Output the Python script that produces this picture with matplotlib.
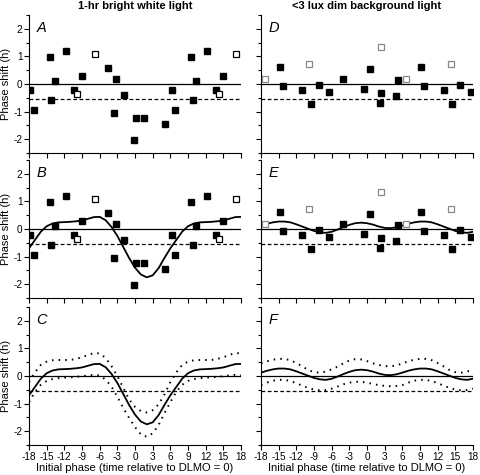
import matplotlib
matplotlib.use("Agg")
import matplotlib.pyplot as plt
import numpy as np

plt.rcParams['font.family'] = ['Liberation Sans', 'DejaVu Sans']
plt.rcParams['axes.unicode_minus'] = False

# one 24-h cycle of the fitted curves, read at -18, -17, ..., 5 h
bright_fit = [-0.70, -0.40, -0.10, 0.10, 0.20, 0.24, 0.25, 0.26, 0.28, 0.31, 0.37, 0.43,
              0.44, 0.32, 0.08, -0.25, -0.65, -1.05, -1.40, -1.65, -1.75, -1.68, -1.42, -1.05]
bright_upper = [-0.22, 0.13, 0.40, 0.52, 0.57, 0.58, 0.58, 0.58, 0.62, 0.68, 0.76, 0.83,
                0.82, 0.66, 0.36, 0.00, -0.42, -0.85, -1.12, -1.27, -1.32, -1.24, -1.03, -0.67]
bright_lower = [-0.95, -0.58, -0.32, -0.18, -0.11, -0.08, -0.06, -0.05, -0.03, -0.01, 0.02, 0.04,
                0.02, -0.13, -0.38, -0.75, -1.15, -1.52, -1.85, -2.12, -2.20, -2.08, -1.78, -1.35]
dim_fit = [0.12, 0.19, 0.24, 0.27, 0.27, 0.24, 0.17, 0.09, 0.01, -0.07, -0.12, -0.14,
           -0.10, -0.02, 0.07, 0.15, 0.21, 0.23, 0.21, 0.16, 0.09, 0.04, 0.03, 0.06]
dim_upper = [0.46, 0.53, 0.59, 0.62, 0.62, 0.57, 0.47, 0.35, 0.22, 0.14, 0.12, 0.16,
             0.24, 0.34, 0.46, 0.56, 0.61, 0.60, 0.54, 0.46, 0.40, 0.36, 0.35, 0.38]
dim_lower = [-0.33, -0.24, -0.17, -0.14, -0.14, -0.18, -0.26, -0.35, -0.43, -0.49, -0.52, -0.51,
             -0.46, -0.38, -0.30, -0.24, -0.21, -0.21, -0.24, -0.29, -0.33, -0.36, -0.37, -0.36]

# individual phase shifts (initial phase in h, shift in h)
bright_phase = [-17.8, -17.2, -14.5, -14.2, -13.6, -11.8, -10.3, -9.05, -4.65, -3.6,
                -3.17, -1.93, -0.17, 0.17, 1.52, 5.15]
bright_shift = [-0.20, -0.94, 0.99, -0.59, 0.10, 1.18, -0.20, 0.28, 0.58, -1.05,
                0.18, -0.40, -2.02, -1.23, -1.23, -1.45]
bright_open_phase = [-9.8, -6.85]
bright_open_shift = [-0.37, 1.09]

dim_phase = [-14.8, -14.3, -11.0, -9.56, -8.2, -6.4, -4.0, -0.46, 0.56, 2.2, 2.33, 4.93, 5.3]
dim_shift = [0.62, -0.06, -0.20, -0.72, -0.04, -0.30, 0.19, -0.19, 0.54, -0.69, -0.33, -0.45, 0.16]
dim_open_phase = [-17.3, -9.8, 2.43]
dim_open_shift = [0.19, 0.72, 1.34]

baseline = -0.54  # dashed reference line


def double_plot(x, y):
    # repeat the data one day later where it still fits on the axis
    x = np.asarray(x, float)
    y = np.asarray(y, float)
    later = x + 24 <= 18
    return np.concatenate([x, x[later] + 24]), np.concatenate([y, y[later]])


def curve(values):
    # the cycle runs -18..5 h, the axis -18..18 h
    h = np.arange(-18, 19)
    return h, np.array(list(values) + list(values[:13]))


def style_axis(ax, left, bottom):
    ax.set_xlim(-18, 18)
    ax.set_ylim(-2.5, 2.5)
    for s in ['top', 'right']:
        ax.spines[s].set_visible(False)
    for s in ['left', 'bottom']:
        ax.spines[s].set_linewidth(0.8)
    ax.set_xticks(np.arange(-18, 19, 3))
    ax.set_yticks([-2, -1, 0, 1, 2])
    ax.set_yticks(np.arange(-2.5, 2.6, 0.5), minor=True)
    ax.tick_params(direction='out', length=3.5, width=0.8, labelsize=7.2, pad=1.2)
    ax.tick_params(which='minor', direction='out', length=2.2, width=0.8)
    ax.set_xticks([], minor=True)
    if not left:
        ax.set_yticklabels([])
    else:
        ax.set_ylabel('Phase shift (h)', fontsize=8)
        ax.yaxis.set_label_coords(-0.083, 0.5)
    if not bottom:
        ax.set_xticklabels([])
    else:
        ax.set_xlabel('Initial phase (time relative to DLMO = 0)', fontsize=8, labelpad=1)
    ax.axhline(0, color='black', lw=0.9, zorder=1)
    ax.axhline(baseline, color='black', lw=0.9, ls=(0, (3, 2)), zorder=1)


fig = plt.figure(figsize=(4.8, 4.75), dpi=100)
W = 212 / 480
H = 138 / 475
lefts = [29 / 480, 261 / 480]
bottoms = [1 - 153 / 475, 1 - 298 / 475, 1 - 445 / 475]

groups = [
    (bright_phase, bright_shift, bright_open_phase, bright_open_shift,
     bright_fit, bright_upper, bright_lower, 'black', 'ABC', '1-hr bright white light'),
    (dim_phase, dim_shift, dim_open_phase, dim_open_shift,
     dim_fit, dim_upper, dim_lower, '#888888', 'DEF', '<3 lux dim background light'),
]

for col, (px, py, ox, oy, fit, up, lo, open_col, letters, title) in enumerate(groups):
    fx, fy = double_plot(px, py)
    ex, ey = double_plot(ox, oy)
    for row in range(3):
        ax = fig.add_axes([lefts[col], bottoms[row], W, H])
        style_axis(ax, col == 0, row == 2)
        if row < 2:
            ax.plot(fx, fy, 's', ms=4.2, color='black', mec='black', zorder=3)
            ax.plot(ex, ey, 's', ms=4.2, mfc='white', mec=open_col, mew=0.9, zorder=3)
        if row >= 1:
            h, v = curve(fit)
            ax.plot(h, v, color='black', lw=1.3, zorder=2)
        if row == 2:
            h, v = curve(up)
            ax.plot(h, v, color='black', lw=1.4, ls=(0, (0.8, 2.6)), zorder=2)
            h, v = curve(lo)
            ax.plot(h, v, color='black', lw=1.4, ls=(0, (0.8, 2.6)), zorder=2)
        ax.text(0.035, 0.96, letters[row], transform=ax.transAxes, fontsize=10.5,
                style='italic', ha='left', va='top')
        if row == 0:
            ax.set_title(title, fontsize=8, fontweight='bold', pad=4)

fig.savefig('out.png', dpi=100)
